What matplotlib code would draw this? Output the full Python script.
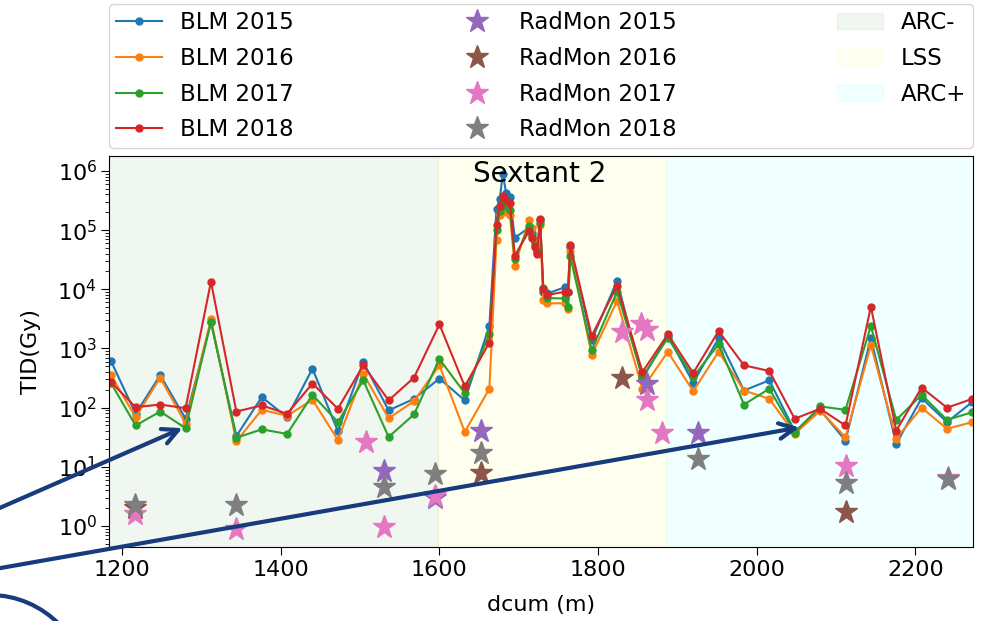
import matplotlib
matplotlib.use('Agg')
from matplotlib import pyplot as plt
from matplotlib.patches import FancyArrowPatch, Ellipse, Patch

plt.rcParams['font.size'] = 16
plt.rcParams['xtick.major.size'] = 5.5
plt.rcParams['ytick.major.size'] = 5.5
plt.rcParams['ytick.minor.size'] = 3

# BLM positions (dcum, m) and TID (Gy) per year
dcum = [1186, 1217, 1248, 1280, 1312, 1344, 1376, 1408, 1440, 1472, 1504, 1536, 1568, 1600, 1632, 1663,
        1672, 1676, 1680, 1684, 1689, 1695, 1713, 1717, 1720, 1723, 1727, 1731, 1736, 1758, 1762, 1765,
        1792, 1824, 1856, 1888, 1920, 1952, 1984, 2016, 2048, 2080, 2112, 2144, 2176, 2208, 2240, 2272]

blm_2015 = [610, 79, 353, 65, 2750, 33, 151, 69, 457, 40, 590, 90, 141, 310, 133, 2400,
            230000, 330000, 900000, 430000, 360000, 74000, 110000, 90000, 60000, 45000, 150000, 9000, 8500, 10800, 9000, 52000,
            1380, 14000, 310, 1650, 264, 1480, 195, 290, 40, 92, 27.7, 1500, 24.5, 145, 57, 125]
blm_2016 = [353, 69, 322, 54, 3100, 27, 92, 73, 136, 28.5, 376, 66, 129, 520, 39, 209,
            67000, 180000, 230000, 200000, 177000, 25000, 147000, 110000, 65000, 45000, 120000, 6500, 5800, 5800, 4600, 45000,
            770, 6400, 209, 880, 190, 880, 195, 141, 36, 89, 31.6, 1140, 30, 100, 44, 57]
blm_2017 = [260, 50, 86, 45, 2830, 31, 43, 36, 165, 57, 290, 32, 77, 665, 176, 1740,
            102000, 210000, 290000, 253000, 223000, 32000, 117000, 80000, 55000, 43000, 130000, 10400, 7100, 7000, 5100, 36000,
            935, 9100, 330, 1510, 330, 1180, 113, 209, 38, 105, 92, 2400, 62, 165, 62, 84]
blm_2018 = [270, 102, 113, 98, 13500, 86, 109, 79, 256, 96, 520, 133, 322, 2560, 229, 1260,
            124000, 253000, 373000, 320000, 290000, 37000, 96000, 74000, 52000, 40000, 157000, 10000, 8000, 9100, 9100, 56000,
            1630, 11500, 400, 1740, 385, 1970, 520, 416, 65, 96, 50, 5100, 41, 218, 100, 141]

# RadMon readings
rm2015_x = [1530, 1594, 1653, 1862, 1926]
rm2015_y = [8.6, 3.0, 41, 254, 38]
rm2016_x = [1216, 1653, 1830, 2113]
rm2016_y = [2.0, 8.0, 317, 1.7]
rm2017_x = [1216, 1344, 1508, 1530, 1594, 1830, 1854, 1862, 1862, 1881, 2113, 2241]
rm2017_y = [1.58, 0.88, 26, 0.96, 3.2, 1910, 2600, 2040, 133, 38, 10.4, 6.5]
rm2018_x = [1216, 1344, 1530, 1594, 1653, 1926, 2113, 2241]
rm2018_y = [2.27, 2.27, 4.5, 7.7, 17, 13.6, 5.4, 6.2]

# regions
arc_minus = (1100, 1598)
lss = (1598, 1886)
arc_plus = (1886, 2400)

fig = plt.figure(figsize=(9.86, 6.21), dpi=100)
ax = fig.add_axes([0.111, 0.119, 0.876, 0.630])

ax.axvspan(*arc_minus, color='green', alpha=0.06)
ax.axvspan(*lss, color='yellow', alpha=0.06)
ax.axvspan(*arc_plus, color='cyan', alpha=0.06)

ax.plot(dcum, blm_2015, '.-', ms=10, lw=1.5, label='BLM 2015')
ax.plot(dcum, blm_2016, '.-', ms=10, lw=1.5, label='BLM 2016')
ax.plot(dcum, blm_2017, '.-', ms=10, lw=1.5, label='BLM 2017')
ax.plot(dcum, blm_2018, '.-', ms=10, lw=1.5, label='BLM 2018')

ax.plot(rm2015_x, rm2015_y, '*', ms=17, color='tab:purple', label='RadMon 2015')
ax.plot(rm2016_x, rm2016_y, '*', ms=17, color='tab:brown', label='RadMon 2016')
ax.plot(rm2017_x, rm2017_y, '*', ms=17, color='tab:pink', label='RadMon 2017')
ax.plot(rm2018_x, rm2018_y, '*', ms=17, color='tab:gray', label='RadMon 2018')

ax.set_yscale('log')
ax.set_xlim(1184, 2273)
ax.set_xlabel('dcum (m)', labelpad=11)
ax.set_ylabel('TID(Gy)', labelpad=12)
ax.text(0.498, 0.99, 'Sextant 2', transform=ax.transAxes, ha='center', va='top', fontsize=20)

handles, labels = ax.get_legend_handles_labels()
handles += [Patch(color='green', alpha=0.06), Patch(color='yellow', alpha=0.06),
            Patch(color='cyan', alpha=0.06)]
labels += ['ARC-', 'LSS', 'ARC+']
ax.legend(handles, labels, ncol=3, loc='lower left', bbox_to_anchor=(0, 1.02, 1, 0.2),
          mode='expand', borderaxespad=0, fontsize=16.5, labelspacing=0.55, borderpad=0.3)

# annotation arrows and circle drawn over the figure
navy = '#173b7c'
W, H = 986.0, 621.0
for start, end in [((-5, 510), (185, 427)), ((-5, 569), (802, 427))]:
    arr = FancyArrowPatch((start[0] / W, 1 - start[1] / H), (end[0] / W, 1 - end[1] / H),
                          transform=fig.transFigure, arrowstyle='->', mutation_scale=28,
                          lw=3, color=navy)
    fig.add_artist(arr)
circ = Ellipse((-10 / W, 1 - 700 / H), 200 / W, 210 / H, transform=fig.transFigure,
               fill=False, lw=3, edgecolor=navy)
fig.add_artist(circ)

fig.savefig('out.png')
